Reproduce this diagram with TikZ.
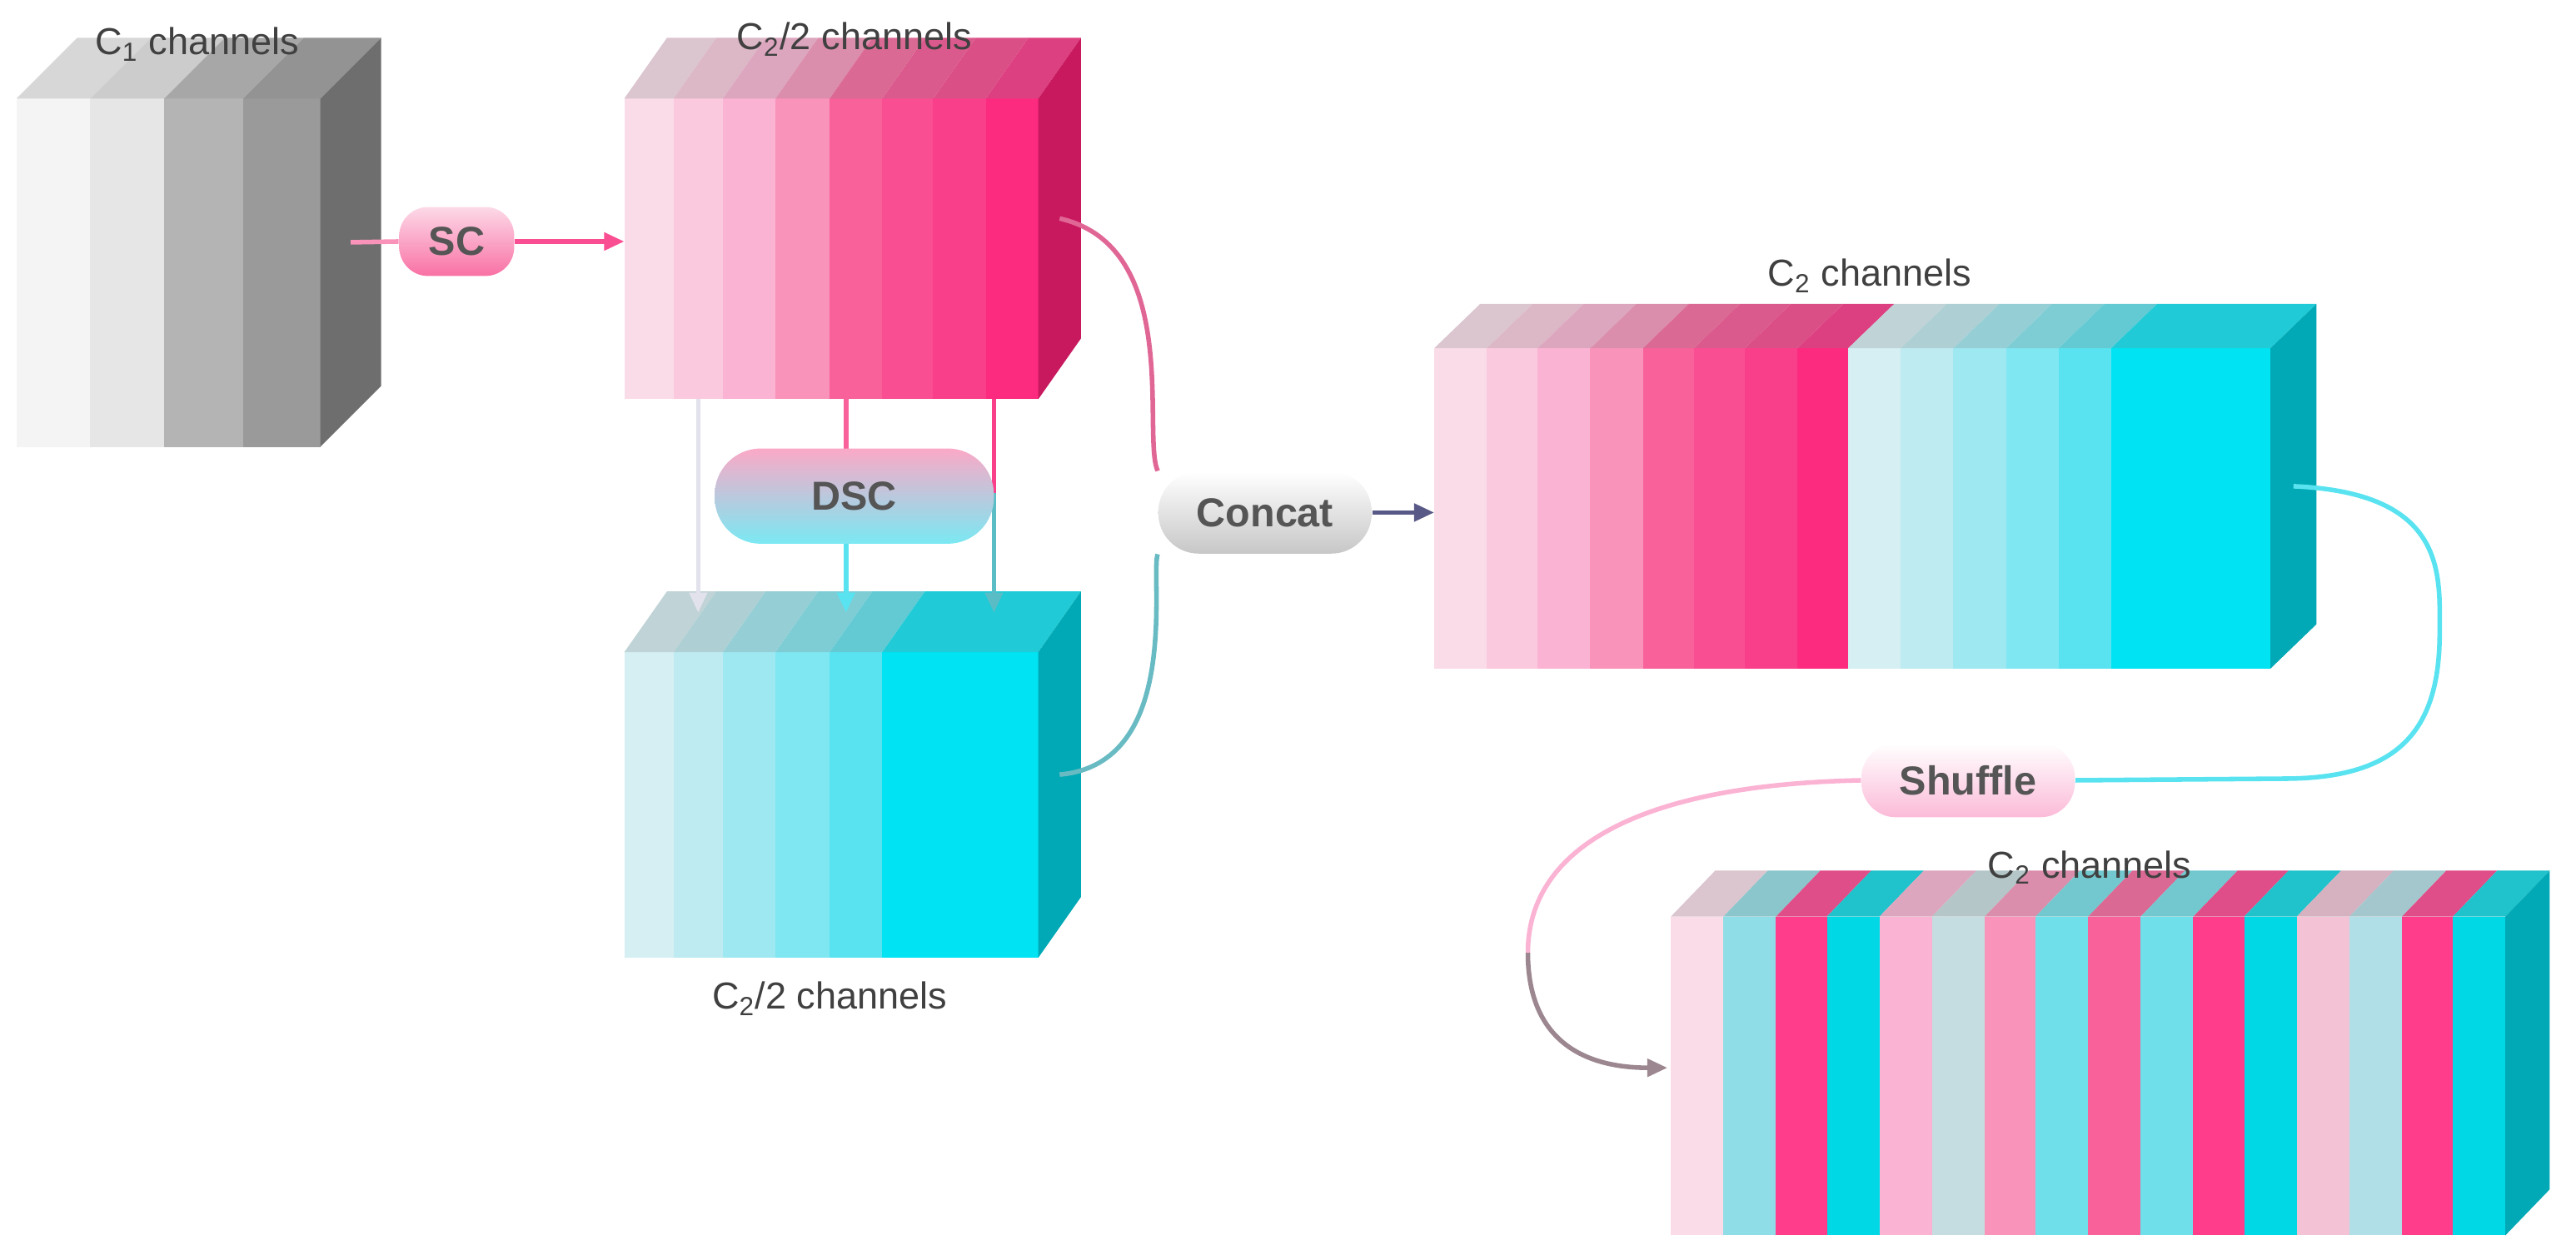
\documentclass[tikz,border=0pt]{standalone}
\usepackage{fontspec}
\setmainfont{Liberation Sans}
\usetikzlibrary{arrows.meta,calc,positioning}

% stripe colours
\definecolor{g1}{HTML}{F4F4F4}\definecolor{g2}{HTML}{E6E6E6}
\definecolor{g3}{HTML}{B4B4B4}\definecolor{g4}{HTML}{9A9A9A}
\definecolor{gs}{HTML}{6E6E6E}
\definecolor{p1}{HTML}{FADCE9}\definecolor{p2}{HTML}{FBC9DD}
\definecolor{p3}{HTML}{FBB3D4}\definecolor{p4}{HTML}{FA93B9}
\definecolor{p5}{HTML}{F8619A}\definecolor{p6}{HTML}{F94E92}
\definecolor{p7}{HTML}{F93F8A}\definecolor{p8}{HTML}{FC2B80}
\definecolor{ps}{HTML}{C8195F}
\definecolor{q1}{HTML}{D5EFF3}\definecolor{q2}{HTML}{BDEBF1}
\definecolor{q3}{HTML}{9EE8F2}\definecolor{q4}{HTML}{7EE7F2}
\definecolor{q5}{HTML}{59E3F0}\definecolor{q6}{HTML}{00E3F3}
\definecolor{qs}{HTML}{00A9B5}
\definecolor{s2}{HTML}{8FDDE6}\definecolor{s6}{HTML}{C5DDE0}
\definecolor{s8}{HTML}{6FE0EA}\definecolor{s13}{HTML}{F3C2D5}
\definecolor{s14}{HTML}{B0DFE8}\definecolor{s3}{HTML}{FF3D8B}
\definecolor{s4}{HTML}{00D8E6}
\definecolor{txt}{HTML}{555555}

% block: name, x0, x1, ytop, ybot, dx, dy, stripes a/b/colour, side colour
\newcommand{\chblock}[9]{%
  \foreach \a/\b/\c in {#8} {
    \fill[\c] (\a,#4) rectangle (\b,#5);
    \fill[\c!75!gray] (\a,#4) -- (\b,#4) -- ({\b+#6},{#4-#7}) -- ({\a+#6},{#4-#7}) -- cycle;
  }
  \fill[#9] (#3,#4) -- ({#3+#6},{#4-#7}) -- ({#3+#6},{#5-#7}) -- (#3,#5) -- cycle;
  \coordinate (#1-side) at ({#3+#6/2},{(#4+#5)/2-#7/2});
  \coordinate (#1-w) at (#2,{(#4+#5)/2});
}

\begin{document}
\begin{tikzpicture}[
  x=0.02cm, y=-0.02cm,
  font=\fontsize{13}{15}\selectfont,
  lbl/.style={text=black!75},
  pill/.style={draw=none, rounded corners=10pt, font=\fontsize{14}{16}\selectfont\bfseries,
    text=txt, inner sep=0pt},
  link/.style={line width=1.6pt},
  tip/.style={-{Triangle[length=7pt,width=6pt]}}
]
\useasboundingbox (0,0) rectangle (1568,767);

% input block
\chblock{gray}{10}{195}{60}{272}{37}{37}
  {10/55/g1, 55/100/g2, 100/148/g3, 148/195/g4}{gs}
% SC branch
\chblock{pink}{380}{632}{60}{243}{26}{37}
  {380/410/p1, 410/440/p2, 440/472/p3, 472/505/p4, 505/537/p5, 537/568/p6, 568/600/p7, 600/632/p8}{ps}
% DSC branch
\chblock{cyan}{380}{632}{397}{583}{26}{37}
  {380/410/q1, 410/440/q2, 440/472/q3, 472/505/q4, 505/537/q5, 537/632/q6}{qs}
% concatenated
\chblock{cat}{873}{1382}{212}{407}{28}{27}
  {873/905/p1, 905/936/p2, 936/968/p3, 968/1000/p4, 1000/1031/p5, 1031/1062/p6, 1062/1094/p7, 1094/1125/p8,
   1125/1157/q1, 1157/1189/q2, 1189/1221/q3, 1221/1253/q4, 1253/1285/q5, 1285/1382/q6}{qs}
% shuffled
\chblock{shuf}{1017}{1525}{558}{752}{27}{28}
  {1017/1049/p1, 1049/1081/s2, 1081/1112/s3, 1112/1144/s4, 1144/1176/p3, 1176/1208/s6, 1208/1239/p4, 1239/1271/s8,
   1271/1303/p5, 1303/1335/s8, 1335/1366/s3, 1366/1398/s4, 1398/1430/s13, 1430/1462/s14, 1462/1493/s3, 1493/1525/s4}{qs}

% labels
\node[lbl] (l1) at (120,27) {C\textsubscript{1} channels};
\node[lbl] (l2) at (520,24) {C\textsubscript{2}/2 channels};
\node[lbl] (l3) at (505,608) {C\textsubscript{2}/2 channels};
\node[lbl] (l4) at (1138,168) {C\textsubscript{2} channels};
\node[lbl] (l5) at (1272,528) {C\textsubscript{2} channels};

% DSC arrows, behind the pill
\coordinate (d1a) at (425,243); \coordinate (d1b) at (425,373);
\coordinate (d2a) at (515,243); \coordinate (d2b) at (515,373);
\coordinate (d3a) at (605,243); \coordinate (d3b) at (605,373);
\coordinate (d2m) at (515,300); \coordinate (d3m) at (605,300);
\draw[link, p1!60!q2, tip] (d1a) -- (d1b);
\draw[link, p5] (d2a) -- (d2m);
\draw[link, q5, tip] (d2m) -- (d2b);
\draw[link, p7] (d3a) -- (d3m);
\draw[link, q5!80!black!90, tip] (d3m) -- (d3b);

% operations
\node[pill, minimum width=1.4cm, minimum height=0.84cm, top color=p2!70, bottom color=p5!90] (SC) at (278,147) {SC};
\node[pill, minimum width=3.4cm, minimum height=1.16cm, rounded corners=16pt, top color=p4!80, bottom color=q5!80] (DSC) at (520,302) {DSC};
\node[pill, minimum width=2.6cm, minimum height=1cm, rounded corners=14pt, top color=white, bottom color=black!22] (Concat) at (770,312) {Concat};
\node[pill, minimum width=2.6cm, minimum height=0.9cm, rounded corners=12pt, top color=white, bottom color=p3!90] (Shuffle) at (1198,475) {Shuffle};

\coordinate (pinkin) at (380,147);
\coordinate (catin) at (873,312);
\coordinate (shufin) at (1015,650);
\coordinate (bend1) at (1485,385);
\coordinate (bend2) at (930,580);

% connectors
\draw[link, p4] (gray-side) -- (SC.west);
\draw[link, p6, tip] (SC.east) -- (pinkin);
\draw[link, p5!80!gray] (pink-side) .. controls (720,150) and (695,265) .. (Concat.north west);
\draw[link, q5!60!gray] (cyan-side) .. controls (720,465) and (700,350) .. (Concat.south west);
\draw[link, black!40!blue!30!gray, tip] (Concat.east) -- (catin);
\draw[link, q5] (cat-side) .. controls (1490,300) and (1485,350) .. (bend1)
  .. controls (1485,445) and (1460,474) .. (1390,474) -- (Shuffle.east);
\draw[link, p3] (Shuffle.west) .. controls (990,478) and (930,520) .. (bend2);
\draw[link, black!30!p2!60!gray, tip] (bend2) .. controls (930,630) and (960,650) .. (shufin);
\end{tikzpicture}
\end{document}
